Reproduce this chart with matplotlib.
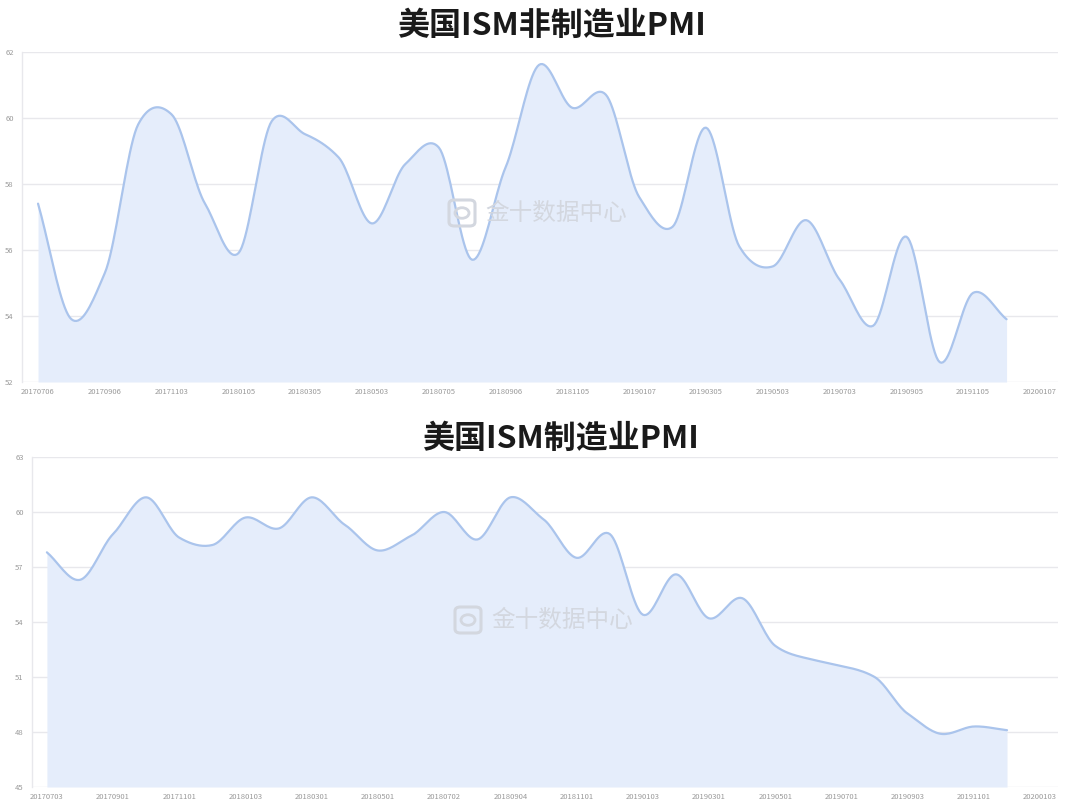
import numpy as np
import matplotlib
matplotlib.use("Agg")
import matplotlib.pyplot as plt
from matplotlib.patches import FancyBboxPatch, Circle

plt.rcParams['font.family'] = ['Noto Sans CJK SC', 'DejaVu Sans']

# ---------------- data ----------------
top_title = "美国ISM非制造业PMI"
top_ticklabels = ["20170706", "20170906", "20171103", "20180105", "20180305", "20180503",
                  "20180705", "20180906", "20181105", "20190107", "20190305", "20190503",
                  "20190703", "20190905", "20191105", "20200107"]
top_values = [57.4, 53.9, 55.3, 59.8, 60.1, 57.4, 55.9, 59.9, 59.5, 58.8,
              56.8, 58.6, 59.1, 55.7, 58.5, 61.6, 60.3, 60.7, 57.6, 56.7,
              59.7, 56.1, 55.5, 56.9, 55.1, 53.7, 56.4, 52.6, 54.7, 53.9]
top_yticks = [52, 54, 56, 58, 60, 62]

bot_title = "美国ISM制造业PMI"
bot_ticklabels = ["20170703", "20170901", "20171101", "20180103", "20180301", "20180501",
                  "20180702", "20180904", "20181101", "20190103", "20190301", "20190501",
                  "20190701", "20190903", "20191101", "20200103"]
bot_values = [57.8, 56.3, 58.8, 60.8, 58.6, 58.2, 59.7, 59.1, 60.8, 59.3,
              57.9, 58.7, 60.0, 58.5, 60.8, 59.6, 57.5, 58.8, 54.4, 56.6,
              54.2, 55.3, 52.7, 52.0, 51.6, 51.0, 49.0, 47.9, 48.3, 48.1]
bot_yticks = [45, 48, 51, 54, 57, 60, 63]

LINE = "#aac4ec"
FILL = "#e5edfb"
GRID = "#e8e8ec"
TXT = "#9a9a9a"
WM = "#d3d7df"


def smooth(y, n=20, k=0.8):
    y = np.asarray(y, float)
    x = np.arange(len(y), dtype=float)
    m = np.zeros_like(y)
    m[1:-1] = k * (y[2:] - y[:-2]) / 2.0
    m[0] = y[1] - y[0]
    m[-1] = y[-1] - y[-2]
    xs, ys = [], []
    for i in range(len(y) - 1):
        t = np.linspace(0, 1, n, endpoint=False)
        h00 = 2 * t**3 - 3 * t**2 + 1
        h10 = t**3 - 2 * t**2 + t
        h01 = -2 * t**3 + 3 * t**2
        h11 = t**3 - t**2
        ys.append(h00 * y[i] + h10 * m[i] + h01 * y[i + 1] + h11 * m[i + 1])
        xs.append(x[i] + t)
    xs.append([x[-1]])
    ys.append([y[-1]])
    return np.concatenate(xs), np.concatenate(ys)


def watermark(fig, px, py):
    W, H = 1080.0, 811.0
    fx, fy = px / W, 1 - py / H
    fig.patches.append(FancyBboxPatch((fx, fy - 13 / H), 26 / W, 26 / H,
                                      boxstyle="round,pad=0,rounding_size=0.005",
                                      transform=fig.transFigure, facecolor="none",
                                      edgecolor=WM, lw=2.2, zorder=5))
    fig.patches.append(Circle((fx + 13 / W, fy), 0.0065, transform=fig.transFigure,
                              facecolor="none", edgecolor=WM, lw=2.0, zorder=5))
    fig.text(fx + 36 / W, fy, "金十数据中心", ha='left', va='center', fontsize=17,
             color=WM, zorder=6)


def draw(ax, values, ticklabels, yticks, xlim):
    xs, ys = smooth(values)
    ymin = yticks[0]
    ax.fill_between(xs, ymin, ys, color=FILL, zorder=2, linewidth=0)
    ax.plot(xs, ys, color=LINE, lw=1.6, zorder=3, solid_capstyle='round')
    ax.set_ylim(yticks[0], yticks[-1])
    ax.set_yticks(yticks)
    ax.set_xlim(*xlim)
    ax.set_xticks(np.arange(0, 2 * len(ticklabels), 2))
    ax.set_xticklabels(ticklabels)
    ax.tick_params(axis='both', length=0, labelsize=5.5, colors=TXT, pad=4)
    ax.tick_params(axis='y', pad=6)
    ax.grid(axis='y', color=GRID, lw=1.0, zorder=1)
    for s in ['top', 'right', 'bottom']:
        ax.spines[s].set_visible(False)
    ax.spines['left'].set_color(GRID)
    ax.spines['left'].set_linewidth(1.0)
    ax.set_axisbelow(True)


fig = plt.figure(figsize=(10.8, 8.11), dpi=100)
fig.patch.set_facecolor("white")

ax1 = fig.add_axes([22 / 1080, 1 - 382 / 811, (1058 - 22) / 1080, (382 - 51.7) / 811])
draw(ax1, top_values, top_ticklabels, top_yticks, (-0.48, 30.54))

ax2 = fig.add_axes([32 / 1080, 1 - 787 / 811, (1058 - 32) / 1080, (787 - 457) / 811])
draw(ax2, bot_values, bot_ticklabels, bot_yticks, (-0.45, 30.54))

watermark(fig, 449, 213)
watermark(fig, 455, 620)

fig.text(0.511, 0.968, top_title, ha='center', va='center', fontsize=23,
         fontweight='bold', color="#1a1a1a")
fig.text(0.519, 0.459, bot_title, ha='center', va='center', fontsize=23,
         fontweight='bold', color="#1a1a1a")

fig.savefig("out.png", dpi=100, facecolor="white")
